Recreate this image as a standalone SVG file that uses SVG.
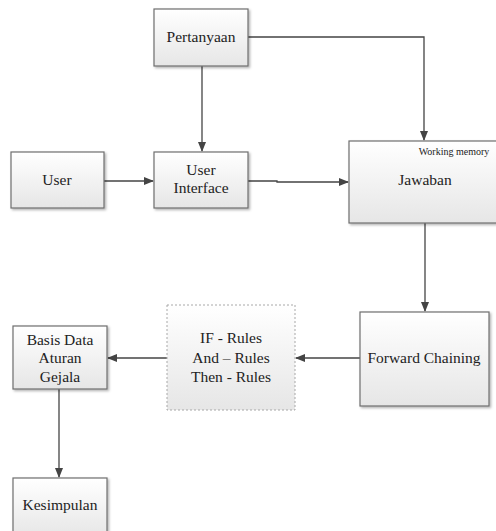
<svg xmlns="http://www.w3.org/2000/svg" width="496" height="531" viewBox="0 0 496 531">
<style>
.box{fill:url(#g);stroke:#6e6e6e;stroke-width:1.2;filter:url(#sh)}
.dash{fill:url(#g);stroke:#a8a8a8;stroke-width:1;stroke-dasharray:2 2}
text{font-family:"Liberation Serif","Times New Roman",serif;font-size:15.5px;fill:#222;text-anchor:middle}
.small{font-size:10px}
.c{fill:none;stroke:#444;stroke-width:1.3;marker-end:url(#a)}
</style>
<defs>
<linearGradient id="g" x1="0" y1="0" x2="0" y2="1">
<stop offset="0" stop-color="#ffffff"/>
<stop offset="1" stop-color="#e6e6e6"/>
</linearGradient>
<filter id="sh" x="-10%" y="-10%" width="130%" height="130%">
<feDropShadow dx="1.5" dy="1.5" stdDeviation="0.8" flood-color="#000" flood-opacity="0.3"/>
</filter>
<marker id="a" markerWidth="10" markerHeight="8" refX="9" refY="4" orient="auto" markerUnits="userSpaceOnUse">
<path d="M0,0 L10,4 L0,8 Z" fill="#444"/>
</marker>
</defs>
<g id="connectors">
<path class="c" d="M202,66 V151"/>
<path class="c" d="M248,37 H424 V140"/>
<path class="c" d="M104,181 H153"/>
<path class="c" d="M248,181 H277 V182 H348"/>
<path class="c" d="M425,223 V311"/>
<path class="c" d="M360,358 H296"/>
<path class="c" d="M167,358 H108"/>
<path class="c" d="M59,389 V477"/>
</g>
<g id="pertanyaan"><rect class="box" x="154" y="9" width="94" height="57"/><text x="201" y="42">Pertanyaan</text></g>
<g id="user"><rect class="box" x="11" y="152" width="93" height="56"/><text x="57" y="185">User</text></g>
<g id="user-interface"><rect class="box" x="154" y="152" width="94" height="56"/><text x="201" y="175">User</text><text x="201" y="193">Interface</text></g>
<g id="jawaban"><rect class="box" x="349" y="141" width="150" height="82"/><text class="small" x="454" y="155">Working memory</text><text x="425" y="185">Jawaban</text></g>
<g id="forward-chaining"><rect class="box" x="360" y="312" width="129" height="94"/><text x="424" y="363">Forward Chaining</text></g>
<g id="rules"><rect class="dash" x="167" y="305" width="128" height="105"/><text x="231" y="343">IF - Rules</text><text x="231" y="363">And – Rules</text><text x="231" y="382">Then - Rules</text></g>
<g id="basis-data"><rect class="box" x="13" y="326" width="94" height="63"/><text x="60" y="345">Basis Data</text><text x="60" y="363">Aturan</text><text x="60" y="382">Gejala</text></g>
<g id="kesimpulan"><rect class="box" x="13" y="478" width="94" height="60"/><text x="60" y="510">Kesimpulan</text></g>
</svg>
